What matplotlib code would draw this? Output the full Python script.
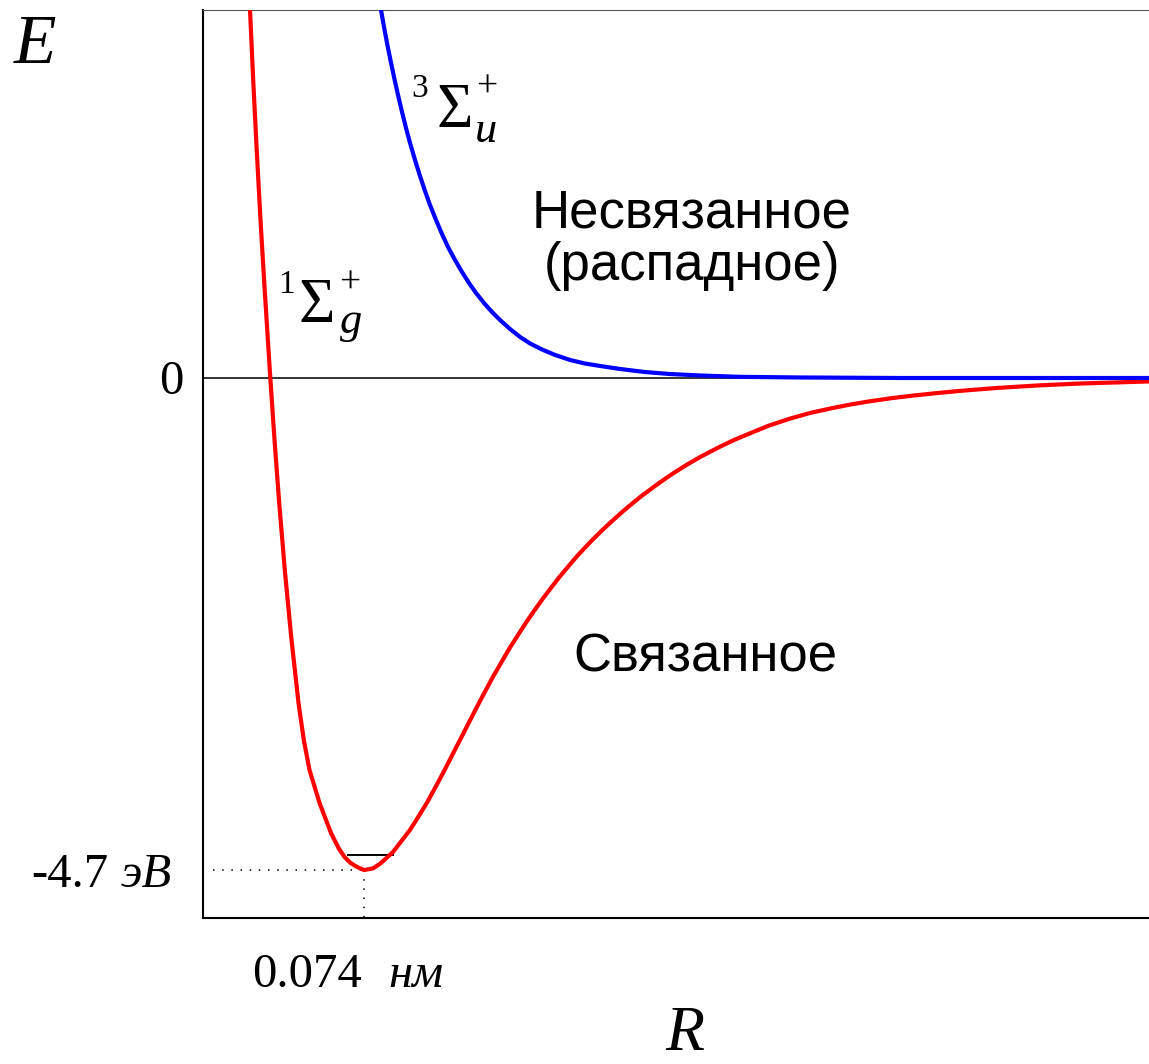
import matplotlib
matplotlib.use("Agg")
import matplotlib.pyplot as plt

# Potential curves: R in nm, E in eV
bound_R = [0.02160, 0.02307, 0.02468, 0.02642, 0.02835, 0.03093, 0.03286, 0.03502,
           0.03759, 0.04053, 0.04389, 0.04632, 0.04894, 0.05354, 0.05882, 0.06227,
           0.06503, 0.06779, 0.07077, 0.07400, 0.07813, 0.08134, 0.08410, 0.08732,
           0.09122, 0.09513, 0.09904, 0.10294, 0.10662, 0.11029, 0.11420, 0.11811,
           0.12201, 0.12592, 0.12960, 0.13327, 0.13718, 0.14108, 0.14499, 0.14890,
           0.15257, 0.15625, 0.16016, 0.16406, 0.16797, 0.17188, 0.17555, 0.17923,
           0.18314, 0.18704, 0.19347, 0.20083, 0.20864, 0.21461, 0.22197, 0.22840,
           0.23759, 0.24403, 0.25046, 0.26011, 0.26976, 0.27895, 0.28860, 0.29734,
           0.30653, 0.31664, 0.32675, 0.33732, 0.34789, 0.36489, 0.38373, 0.40257,
           0.43474]
bound_E = [3.515, 2.846, 2.178, 1.509, 0.840, 0.0, -0.592, -1.194,
           -1.834, -2.474, -3.104, -3.458, -3.744, -4.059, -4.346, -4.489,
           -4.575, -4.632, -4.670, -4.700, -4.684, -4.640, -4.589, -4.527,
           -4.422, -4.317, -4.188, -4.056, -3.916, -3.774, -3.615, -3.457,
           -3.298, -3.140, -2.995, -2.853, -2.713, -2.574, -2.447, -2.322,
           -2.212, -2.105, -1.998, -1.894, -1.797, -1.702, -1.620, -1.540,
           -1.460, -1.384, -1.264, -1.138, -1.017, -0.930, -0.833, -0.755,
           -0.656, -0.592, -0.536, -0.454, -0.388, -0.334, -0.290, -0.254,
           -0.222, -0.192, -0.167, -0.144, -0.123, -0.095, -0.071, -0.053,
           -0.033]

free_R = [0.08180, 0.08318, 0.08456, 0.08594, 0.08778, 0.08961, 0.09145, 0.09329,
          0.09513, 0.09743, 0.09972, 0.10202, 0.10432, 0.10708, 0.10983, 0.11259,
          0.11581, 0.11903, 0.12224, 0.12546, 0.12914, 0.13281, 0.13649, 0.14108,
          0.14568, 0.15028, 0.15579, 0.16177, 0.16866, 0.17555, 0.18244, 0.19164,
          0.20313, 0.21461, 0.22840, 0.24678, 0.27436, 0.32031, 0.43474]
free_E = [3.515, 3.352, 3.200, 3.056, 2.875, 2.703, 2.541, 2.388,
          2.245, 2.082, 1.929, 1.786, 1.652, 1.509, 1.375, 1.251,
          1.127, 1.012, 0.907, 0.812, 0.716, 0.630, 0.554, 0.468,
          0.392, 0.330, 0.272, 0.220, 0.172, 0.138, 0.115, 0.086,
          0.057, 0.038, 0.024, 0.011, 0.005, 0.0, 0.0]

R_eq = 0.074          # nm
E_min = -4.7          # eV
level_R = [0.0666, 0.0873]
level_E = -4.556

serif = "Liberation Serif"
sans = "Liberation Sans"

W, H = 1149, 1064
fig = plt.figure(figsize=(W / 100, H / 100), dpi=100)
ax = fig.add_axes([203 / W, 1 - 918 / H, 1 - 203 / W, (918 - 10) / H])

ax.set_xlim(0, 0.4347)
ax.set_ylim(-5.158, 3.515)

ax.axhline(0, color="black", lw=1.1, zorder=1)
ax.plot(bound_R, bound_E, color="#ff0000", lw=3.0, zorder=3,
        solid_joinstyle="round", solid_capstyle="round")
ax.plot(free_R, free_E, color="#0000ff", lw=3.0, zorder=4,
        solid_joinstyle="round", solid_capstyle="round")

# vibrational ground level and dotted guides
ax.plot(level_R, [level_E, level_E], color="black", lw=1.4, zorder=2)
ax.plot([0.0046, R_eq], [E_min, E_min], color="black", lw=1.1,
        linestyle=(0, (1, 5)), zorder=2)
ax.plot([R_eq, R_eq], [E_min, -5.158], color="black", lw=1.1,
        linestyle=(0, (1, 5)), zorder=2)

ax.set_xticks([])
ax.set_yticks([])
ax.spines["right"].set_visible(False)
ax.spines["left"].set_linewidth(1.5)
ax.spines["bottom"].set_linewidth(1.5)
ax.spines["top"].set_linewidth(0.8)
ax.spines["top"].set_color("#555555")


def px(x, y):
    return x / W, 1 - y / H


# axis letters and values
fig.text(*px(35, 63), "E", family=serif, style="italic", fontsize=50, ha="center", va="baseline")
fig.text(*px(685, 1050), "R", family=serif, style="italic", fontsize=46, ha="center", va="baseline")
fig.text(*px(171, 394), "0", family=serif, fontsize=35, ha="center", va="baseline")
fig.text(*px(108, 887), "-4.7", family=serif, fontsize=35, ha="right", va="baseline")
fig.text(*px(121, 887), "эВ", family=serif, style="italic", fontsize=35, ha="left", va="baseline")
fig.text(*px(252, 987), "0.074", family=serif, fontsize=35, ha="left", va="baseline")
fig.text(*px(388, 987), "нм", family=serif, style="italic", fontsize=35, ha="left", va="baseline")

# term symbols
fig.text(*px(286, 293), "1", family=serif, fontsize=24, ha="center", va="baseline")
fig.text(*px(317, 322), "Σ", family=serif, fontsize=45, ha="center", va="baseline")
fig.text(*px(351, 333), "g", family=serif, style="italic", fontsize=32, ha="center", va="baseline")
fig.text(*px(350, 283), "+", family=serif, fontsize=27, ha="center", va="center")

fig.text(*px(420, 97), "3", family=serif, fontsize=24, ha="center", va="baseline")
fig.text(*px(455, 127), "Σ", family=serif, fontsize=45, ha="center", va="baseline")
fig.text(*px(486, 142), "u", family=serif, style="italic", fontsize=32, ha="center", va="baseline")
fig.text(*px(487, 87), "+", family=serif, fontsize=27, ha="center", va="center")

# state names
fig.text(*px(692, 228), "Несвязанное", family=sans, fontsize=38, ha="center", va="baseline")
fig.text(*px(692, 280), "(распадное)", family=sans, fontsize=38, ha="center", va="baseline")
fig.text(*px(705, 672), "Связанное", family=sans, fontsize=38, ha="center", va="baseline")

fig.savefig("out.png", dpi=100)
